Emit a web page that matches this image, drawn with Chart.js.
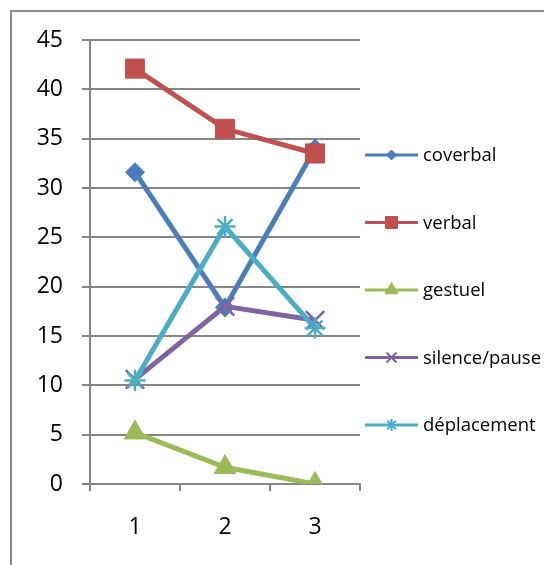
<!DOCTYPE html>
<html>
<head>
<meta charset="utf-8">
<script src="https://cdn.jsdelivr.net/npm/chart.js@4/dist/chart.umd.min.js"></script>
<style>
  body { margin: 0; background: #fff; }
  canvas { display: block; }
</style>
</head>
<body>
<canvas id="lineChart" width="544" height="565"></canvas>
<script>
// data
const categories = ["1", "2", "3"];
const seriesNames = ["coverbal", "verbal", "gestuel", "silence/pause", "déplacement"];
const coverbal = [31.6, 17.9, 34.0];
const verbal = [42.1, 36.0, 33.5];
const gestuel = [5.2, 1.7, 0];
const silencePause = [10.6, 18.0, 16.6];
const deplacement = [10.5, 26.1, 15.8];
const yTicks = [0, 5, 10, 15, 20, 25, 30, 35, 40, 45];

const colors = ["#4a7ebb", "#c0504d", "#9bbb59", "#8064a2", "#4bacc6"];
const markers = ["rectRot", "rect", "triangle", "crossRot", "star"];
const markerSize = [9.5, 13.5, 12.5, 13, 10.5];
const legendMarkerSize = [5, 8.5, 7.5, 7, 6];

Chart.defaults.font.family = "'Open Sans', sans-serif";
Chart.defaults.color = "#000";

const gridColor = "#868686";

// frame round the chart, cut by the window on right and bottom
const framePlugin = {
  id: "frame",
  beforeDraw(chart) {
    const ctx = chart.ctx;
    ctx.save();
    ctx.fillStyle = "#fff";
    ctx.fillRect(0, 0, chart.width, chart.height);
    ctx.strokeStyle = "#8c8c8c";
    ctx.lineWidth = 2;
    ctx.beginPath();
    ctx.moveTo(11, chart.height);
    ctx.lineTo(11, 11);
    ctx.lineTo(chart.width, 11);
    ctx.stroke();
    ctx.restore();
  }
};

// excel style legend: line sample with the marker in the middle
const legendPlugin = {
  id: "lineLegend",
  afterDraw(chart) {
    const ctx = chart.ctx;
    ctx.save();
    chart.data.datasets.forEach((ds, i) => {
      const y = 155 + i * 67.5;
      ctx.strokeStyle = ds.borderColor;
      ctx.lineWidth = 3;
      ctx.beginPath();
      ctx.moveTo(365, y);
      ctx.lineTo(418, y);
      ctx.stroke();
      ctx.fillStyle = ds.borderColor;
      ctx.strokeStyle = ds.borderColor;
      const bw = (ds.pointStyle === "crossRot" || ds.pointStyle === "star") ? 2 : 1;
      ctx.lineWidth = bw;
      Chart.helpers.drawPoint(ctx, { pointStyle: ds.pointStyle, rotation: 0, radius: legendMarkerSize[i], borderWidth: bw }, 391.5, y);
      ctx.fillStyle = "#000";
      ctx.font = "18.5px 'Open Sans'";
      ctx.textAlign = "left";
      ctx.textBaseline = "middle";
      ctx.fillText(ds.label, 423, y + 1);
    });
    ctx.restore();
  }
};

const seriesData = [coverbal, verbal, gestuel, silencePause, deplacement];

const datasets = seriesNames.map((name, i) => ({
  label: name,
  data: seriesData[i],
  borderColor: colors[i],
  backgroundColor: colors[i],
  borderWidth: 5,
  pointStyle: markers[i],
  pointRadius: markerSize[i],
  pointHoverRadius: markerSize[i],
  pointBackgroundColor: colors[i],
  pointBorderColor: colors[i],
  pointBorderWidth: (markers[i] === "crossRot" || markers[i] === "star") ? 2.5 : 1,
  tension: 0,
  order: seriesNames.length - i
}));

new Chart(document.getElementById("lineChart"), {
  type: "line",
  data: { labels: categories, datasets: datasets },
  plugins: [framePlugin, legendPlugin],
  options: {
    responsive: false,
    animation: false,
    devicePixelRatio: 1,
    layout: { padding: { left: 0, top: 40, right: 184, bottom: 0 } },
    plugins: { legend: { display: false }, tooltip: { enabled: false } },
    scales: {
      x: {
        offset: true,
        grid: {
          offset: true,
          drawOnChartArea: false,
          drawTicks: true,
          tickLength: 7,
          color: gridColor,
          lineWidth: 2
        },
        border: { display: true, color: gridColor, width: 2 },
        ticks: { font: { size: 23 }, color: "#000", padding: 23 },
        afterFit(scale) { scale.height = 81; }
      },
      y: {
        min: 0,
        max: 45,
        afterBuildTicks(scale) { scale.ticks = yTicks.map(v => ({ value: v })); },
        grid: {
          drawTicks: true,
          tickLength: 8,
          color: gridColor,
          lineWidth: 2
        },
        border: { display: true, color: gridColor, width: 2 },
        ticks: { font: { size: 23 }, color: "#000", padding: 19 },
        afterFit(scale) { scale.width = 90; }
      }
    }
  }
});
</script>
</body>
</html>
